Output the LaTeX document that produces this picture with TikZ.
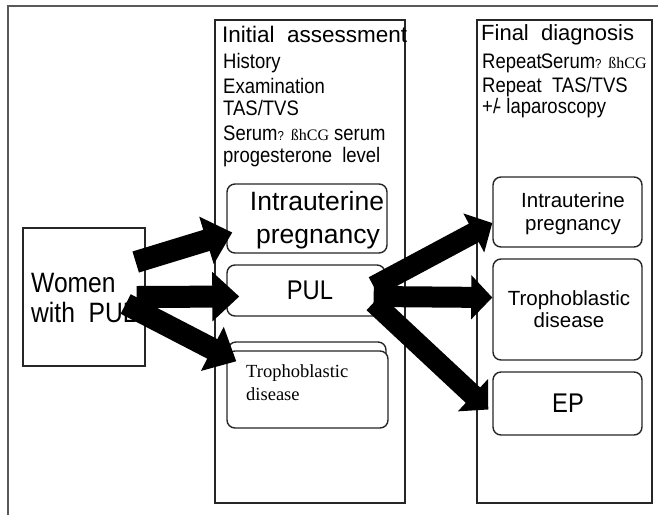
\documentclass[tikz,border=0pt]{standalone}
\usepackage{fontspec}
\setmainfont{Liberation Sans}
\newfontfamily\narfont[FakeStretch=0.88]{Liberation Sans}
\newfontfamily\serfont{Liberation Serif}
\usetikzlibrary{arrows.meta,calc}
\begin{document}
\begin{tikzpicture}[x=1pt,y=-1pt,
  plainbox/.style={draw=black!85, line width=1.4pt},
  rbox/.style={draw=black!85, line width=1.4pt, rounded corners=8pt, fill=white},
  fatL/.style={line width=22pt, -{Triangle[length=27pt,width=48pt]}},
  fatR/.style={line width=21pt, -{Triangle[length=21pt,width=43pt]}},
  txt/.style={anchor=base west, inner sep=0pt},
  ctxt/.style={anchor=base, inner sep=0pt},
  fs/.style={font=\fontsize{#1}{#1}\selectfont},
  ns/.style={font=\narfont\fontsize{#1}{#1}\selectfont},
]
\useasboundingbox (0,0) rectangle (658,515);
% outer frame lines
\draw[draw=black!65, line width=1.2pt] (8,515) -- (8,6) -- (658,6);

% column frames
\node[draw=black!85, line width=1.8pt, minimum width=190pt, minimum height=483pt, inner sep=0pt] (init) at (310,261.5) {};
\node[draw=black!85, line width=1.6pt, minimum width=175pt, minimum height=483pt, inner sep=0pt] (final) at (564.5,261.5) {};

% initial assessment texts
\node[txt, fs=22.5] (t1) at (222,42) {Initial\ \ assessment};
\node[txt, ns=21] (t2) at (223,68) {History};
\node[txt, ns=21] (t3) at (223,93) {Examination};
\node[txt, ns=21] (t4) at (223,115) {TAS/TVS};
\node[txt, ns=21] (t5) at (223,140) {Serum{\fontsize{13}{13}\selectfont ?} {\serfont\fontsize{16}{16}\selectfont ßhCG} serum};
\node[txt, ns=21] (t6) at (223,162) {progesterone\ \ level};

% final diagnosis texts
\node[txt, fs=22] (f1) at (481,40) {Final\ \ diagnosis};
\node[txt, ns=21] (f2) at (482,68) {Repeat\kern-1ptSerum{\fontsize{13}{13}\selectfont ?} {\serfont\fontsize{16}{16}\selectfont ßhCG}};
\node[txt, ns=21] (f3) at (482,92) {Repeat\ \ TAS/TVS};
\node[txt, ns=21] (f4) at (482,113) {+/\kern-3pt- laparoscopy};

% women box
\node[plainbox, minimum width=122pt, minimum height=138pt, inner sep=0pt] (women) at (84,297) {};
\node[txt, ns=28] (wt1) at (31,292) {Women};
\node[txt, ns=28] (wt2) at (31,322) {with\ \ PUL};

% left inner boxes
\node[rbox, minimum width=160pt, minimum height=69pt, inner sep=0pt] (iu1) at (307,218.5) {};
\node[ctxt, fs=26.5] (iu1a) at (317,210) {Intrauterine};
\node[ctxt, fs=26.5] (iu1b) at (318,243) {pregnancy};
\node[rbox, minimum width=158pt, minimum height=51pt, inner sep=0pt] (pul) at (306,290.5) {};
\node[ctxt, ns=27] (pult) at (310,299) {PUL};
\node[rbox, minimum width=158pt, minimum height=60pt, inner sep=0pt] (tb1back) at (307,372) {};
\node[rbox, minimum width=161pt, minimum height=77pt, inner sep=0pt] (tb1) at (307.5,389.5) {};
\node[txt, font=\serfont\fontsize{18.5}{18.5}\selectfont] (tb1a) at (246,377) {Trophoblastic};
\node[txt, font=\serfont\fontsize{18.5}{18.5}\selectfont] (tb1b) at (246,400) {disease};

% final inner boxes
\node[rbox, minimum width=149pt, minimum height=70pt, inner sep=0pt] (iu2) at (567.5,212) {};
\node[ctxt, fs=20.5] (iu2a) at (573,207) {Intrauterine};
\node[ctxt, fs=20.5] (iu2b) at (573,230) {pregnancy};
\node[rbox, minimum width=149pt, minimum height=101pt, inner sep=0pt] (tb2) at (567.5,309.5) {};
\node[ctxt, fs=20.5] (tb2a) at (569,305) {Trophoblastic};
\node[ctxt, fs=20.5] (tb2b) at (569,327) {disease};
\node[rbox, minimum width=149pt, minimum height=63pt, inner sep=0pt] (ep) at (567.5,403.5) {};
\node[ctxt, ns=27] (ept) at (568,412) {EP};

% arrows
\draw[fatL] ($(women.east)+(-10,-35)$) -- ($(iu1.west)+(6,14)$);
\draw[fatL] ($(women.east)+(-9,0)$) -- ($(pul.west)+(13,6)$);
\draw[fatL] ($(women.east)+(-20,7)$) -- ($(tb1.north west)+(10,11)$);
\draw[fatR] ($(pul.east)+(-12,-4)$) -- ($(iu2.west)+(0,11)$);
\draw[fatR] ($(pul.east)+(-12,6)$) -- ($(tb2.west)+(0,-12)$);
\draw[fatR] ($(pul.east)+(-12,12)$) -- ($(ep.west)+(-4,6)$);
\end{tikzpicture}
\end{document}
